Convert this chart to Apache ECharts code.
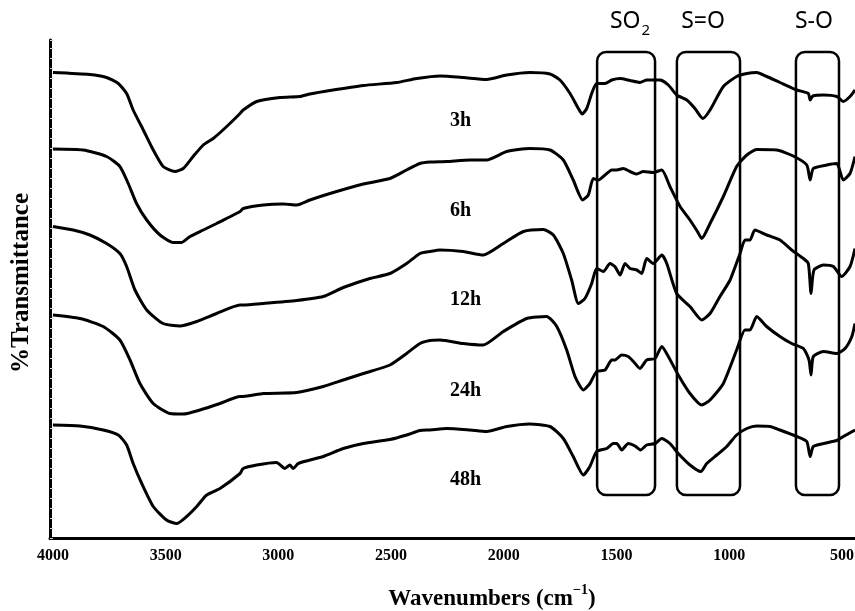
<!DOCTYPE html>
<html>
<head>
<meta charset="utf-8">
<title>FTIR spectra</title>
<script src="https://cdn.jsdelivr.net/npm/echarts@6/dist/echarts.min.js"></script>
<style>
  html, body { margin: 0; padding: 0; background: #fff; }
  #main { width: 855px; height: 611px; }
</style>
</head>
<body>
<div id="main"></div>
<script>
// Wavenumber tick labels (cm-1)
const wavenumberTicks = [4000, 3500, 3000, 2500, 2000, 1500, 1000, 500];

// Sample names, top to bottom
const sampleLabels = ['3h', '6h', '12h', '24h', '48h'];

// Stacked %T traces as [wavenumber, %T (offset)]
const t3h = [[4000,93.1],[3836,92.7],[3762,92.1],[3710,90.9],[3673,88.9],[3644,85.6],[3599,81.6],[3555,77.6],[3511,74.3],[3459,73.3],[3422,73.9],[3378,76.3],[3333,78.6],[3289,79.9],[3229,82.3],[3170,84.9],[3156,85.6],[3096,87.3],[2993,88.1],[2904,88.3],[2860,88.8],[2771,89.5],[2623,90.5],[2475,91.1],[2386,91.9],[2283,92.4],[2180,92.1],[2076,91.7],[1987,92.6],[1884,93.1],[1795,92.8],[1751,91.6],[1706,88.9],[1669,85.9],[1652,84.8],[1632,85.9],[1610,88.9],[1588,90.9],[1551,90.9],[1521,91.6],[1484,91.9],[1440,91.5],[1396,91.1],[1366,91.6],[1307,91.6],[1270,90.6],[1233,88.6],[1188,87.6],[1152,85.9],[1117,83.9],[1085,85.6],[1026,90.3],[967,92.3],[922,92.9],[878,93.1],[834,92.3],[775,91.1],[700,89.6],[649,88.9],[641,87.6],[629,88.4],[582,88.6],[523,88.3],[494,87.3],[464,88.3],[442,89.6]];

const t6h = [[4000,77.8],[3866,77.6],[3762,76.3],[3703,74.3],[3666,70.9],[3629,66.9],[3584,63.6],[3525,60.6],[3466,59.1],[3429,59.1],[3392,60.3],[3333,61.6],[3274,62.9],[3170,65.3],[3156,65.9],[3067,66.6],[2978,66.8],[2919,66.6],[2860,67.6],[2771,68.9],[2623,70.8],[2505,71.9],[2431,73.6],[2372,74.9],[2327,75.2],[2253,75.3],[2150,75.6],[2076,75.6],[1987,77.3],[1884,77.9],[1795,77.6],[1736,75.6],[1692,71.6],[1650,67.6],[1625,68.6],[1603,71.9],[1581,71.6],[1543,72.9],[1521,73.6],[1499,73.6],[1470,73.9],[1440,73.3],[1410,72.8],[1381,73.3],[1337,73.1],[1299,73.6],[1263,70.3],[1218,66.3],[1174,63.6],[1141,61.3],[1122,59.9],[1085,62.9],[1026,68.3],[967,74.3],[922,76.6],[878,77.7],[789,77.6],[716,76.4],[656,74.6],[641,71.6],[627,73.9],[567,74.6],[523,74.9],[494,71.6],[464,72.9],[442,76.3]];

const t12h = [[4000,62.3],[3910,61.6],[3836,60.6],[3762,58.9],[3703,56.9],[3673,54.3],[3636,49.6],[3584,45.6],[3511,42.9],[3437,42.4],[3362,43.3],[3274,44.9],[3170,46.6],[3156,46.6],[3067,46.9],[2919,47.5],[2801,48.3],[2712,50.1],[2594,51.9],[2505,52.9],[2431,54.9],[2372,56.9],[2327,57.3],[2283,57.6],[2180,57.3],[2091,56.6],[2002,58.9],[1913,61.3],[1825,61.7],[1780,60.6],[1736,56.9],[1699,51.6],[1669,46.9],[1640,47.9],[1610,50.9],[1588,53.9],[1558,53.3],[1529,54.9],[1507,54.3],[1484,52.6],[1462,54.9],[1440,53.9],[1410,53.6],[1388,52.9],[1366,55.9],[1337,54.9],[1299,56.6],[1277,54.9],[1233,48.9],[1174,46.3],[1122,43.6],[1085,44.9],[1041,48.3],[996,51.6],[952,56.9],[930,59.6],[908,59.6],[886,61.6],[834,60.6],[775,59.6],[723,57.6],[671,55.9],[649,54.9],[637,48.9],[624,53.6],[582,54.6],[538,54.3],[501,52.3],[464,54.3],[442,57.9]];

const t24h = [[4000,44.6],[3880,43.9],[3777,42.3],[3703,39.6],[3658,35.6],[3614,30.9],[3555,26.9],[3481,24.9],[3422,24.8],[3348,25.6],[3259,26.9],[3170,28.3],[3156,28.3],[3067,28.9],[2919,29.1],[2801,30.3],[2712,31.6],[2623,32.9],[2505,34.6],[2431,36.9],[2372,38.9],[2327,39.5],[2283,39.6],[2180,38.9],[2091,38.6],[2002,41.3],[1898,43.9],[1810,44.3],[1765,42.3],[1721,37.6],[1684,32.3],[1647,29.6],[1618,30.9],[1588,33.3],[1551,33.6],[1521,35.6],[1507,35.6],[1477,36.6],[1448,36.3],[1425,35.3],[1396,33.9],[1366,35.6],[1329,35.9],[1299,38.3],[1270,36.3],[1226,32.6],[1174,28.9],[1122,26.6],[1085,27.6],[1026,30.9],[967,37.6],[930,41.6],[908,41.6],[878,44.3],[834,42.3],[775,40.3],[723,38.9],[671,37.9],[646,35.6],[637,32.6],[627,36.3],[582,37.3],[523,36.9],[486,37.9],[456,40.3],[442,42.9]];

const t48h = [[4000,22.6],[3880,22.4],[3777,21.6],[3710,20.6],[3673,18.6],[3644,14.9],[3606,10.9],[3555,6.3],[3496,3.6],[3451,2.9],[3407,4.3],[3362,6.3],[3318,8.6],[3259,9.9],[3170,12.9],[3156,13.9],[3096,14.6],[3008,15.1],[2971,13.9],[2949,14.6],[2934,13.9],[2912,14.9],[2801,16.3],[2712,17.9],[2623,18.9],[2505,19.7],[2431,20.6],[2372,21.5],[2327,21.6],[2253,21.9],[2150,21.6],[2076,21.3],[1987,22.3],[1884,22.8],[1795,22.3],[1736,19.9],[1692,16.3],[1647,12.6],[1618,14.3],[1588,17.3],[1543,17.9],[1514,18.9],[1499,18.9],[1477,17.6],[1448,18.9],[1418,18.4],[1393,17.6],[1366,18.6],[1329,18.9],[1299,19.9],[1263,18.9],[1226,16.9],[1174,14.6],[1126,13.3],[1100,14.9],[1055,16.6],[1011,18.3],[967,20.6],[922,21.9],[878,22.4],[819,22.3],[775,21.6],[700,20.3],[656,19.3],[641,16.3],[627,18.3],[582,18.9],[523,19.5],[494,20.3],[442,21.6]];

// Assigned absorption regions (cm-1)
const bandNames = ['SO', 'S=O', 'S-O'];
const bandFrom = [1586, 1232, 704];
const bandTo = [1329, 952, 513];

const spectra = [t3h, t6h, t12h, t24h, t48h];

const chart = echarts.init(document.getElementById('main'), null, { renderer: 'canvas' });

const serif = 'Liberation Serif';

chart.setOption({
  animation: false,
  backgroundColor: '#ffffff',
  grid: { left: 50, right: 0, top: 40, bottom: 73, containLabel: false, outerBoundsMode: 'none' },
  xAxis: {
    type: 'value',
    inverse: true,
    min: 442,
    max: 4013,
    axisLine: { show: true, onZero: false, lineStyle: { color: '#000', width: 3 } },
    axisTick: { show: false },
    splitLine: { show: false },
    axisLabel: {
      customValues: wavenumberTicks,
      formatter: (v) => String(v),
      fontFamily: serif,
      fontWeight: 'bold',
      fontSize: 16,
      color: '#000',
      margin: 10
    }
  },
  yAxis: {
    type: 'value',
    min: 0,
    max: 99.6,
    interval: 2,
    axisLine: { show: true, onZero: false, lineStyle: { color: '#000', width: 3 } },
    axisTick: { show: true, inside: true, length: 3, lineStyle: { color: '#d0d0d0', width: 1 } },
    axisLabel: { show: false },
    splitLine: { show: false }
  },
  series: spectra.map((d, i) => ({
    name: sampleLabels[i],
    type: 'line',
    data: d,
    showSymbol: false,
    smooth: 0.2,
    lineStyle: { color: '#000', width: 3 },
    z: 3
  }))
});

// Annotations anchored to data coordinates
const px = (w, t) => chart.convertToPixel({ gridIndex: 0 }, [w, t]);

const graphics = [];

// Sample labels, left-aligned in the 2200 cm-1 gap
const labelW = 2239;
const labelT = [83.4, 65.4, 47.6, 29.4, 11.6];
sampleLabels.forEach((s, i) => {
  const p = px(labelW, labelT[i]);
  graphics.push({
    type: 'text', x: p[0], y: p[1], z: 10,
    style: { text: s, fill: '#000', font: 'bold 20px "Liberation Serif"', align: 'left', verticalAlign: 'middle' }
  });
});

// Rounded boxes around the assigned bands
const boxTop = 97.2, boxBottom = 8.6;
const bandLabelW = [1440, 1116, 624];
const bandLabelT = 102.8;
bandNames.forEach((n, i) => {
  const a = px(bandFrom[i], boxTop);
  const b = px(bandTo[i], boxBottom);
  graphics.push({
    type: 'rect', z: 5,
    shape: { x: a[0], y: a[1], width: b[0] - a[0], height: b[1] - a[1], r: 9 },
    style: { fill: 'none', stroke: '#000', lineWidth: 2.5 }
  });
  const c = px(bandLabelW[i], bandLabelT);
  const txt = i === 0 ? '{a|SO}{s|2}' : '{a|' + n + '}';
  graphics.push({
    type: 'text', x: c[0], y: c[1], z: 10,
    style: {
      text: txt, align: 'center', verticalAlign: 'middle',
      rich: {
        a: { fontFamily: 'Noto Sans', fontSize: 23, lineHeight: 29, color: '#1a1a1a', verticalAlign: 'top' },
        s: { fontFamily: 'Noto Sans', fontSize: 15, lineHeight: 14, color: '#1a1a1a', verticalAlign: 'bottom', padding: [0, 0, 0, 1] }
      }
    }
  });
});

// Axis titles
graphics.push({
  type: 'text', x: 492, y: 597, z: 10,
  style: {
    text: '{a|Wavenumbers (cm}{s|\u22121}{a|)}',
    align: 'center', verticalAlign: 'middle',
    rich: {
      a: { fontFamily: serif, fontWeight: 'bold', fontSize: 23, lineHeight: 28, color: '#000', verticalAlign: 'bottom' },
      s: { fontFamily: serif, fontWeight: 'bold', fontSize: 14, lineHeight: 14, color: '#000', verticalAlign: 'top' }
    }
  }
});
graphics.push({
  type: 'text', x: 22, y: 283, rotation: Math.PI / 2, z: 10,
  style: { text: '%Transmittance', fill: '#000', font: 'bold 25px "Liberation Serif"', align: 'center', verticalAlign: 'middle' }
});

chart.setOption({ graphic: graphics });
</script>
</body>
</html>
